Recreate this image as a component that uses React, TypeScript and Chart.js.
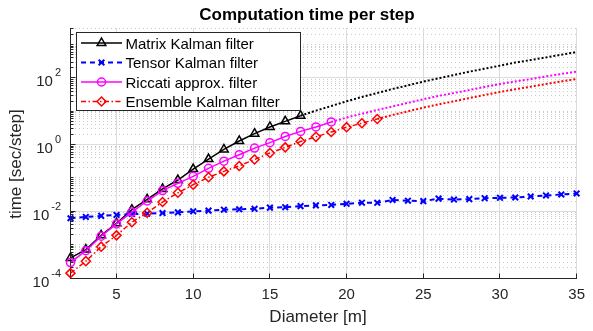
import React, { useEffect, useRef } from "react";
import { Chart, registerables } from "chart.js";

Chart.register(...registerables);

const FONT = '"Liberation Sans", Arial, Helvetica, sans-serif';
const AXIS_COLOR = "#262626";

// ---- data ----
const diameters = [2, 3, 4, 5, 6, 7, 8, 9, 10, 11, 12, 13, 14, 15, 16, 17, 18, 19, 20, 21, 22, 23, 24, 25, 26, 27, 28, 29, 30, 31, 32, 33, 34, 35];

// measured, D = 2..17
const matrixTime = [4.0e-4, 7.1e-4, 1.9e-3, 4.4e-3, 0.0112, 0.023, 0.047, 0.087, 0.186, 0.37, 0.72, 1.29, 2.14, 3.4, 5.0, 7.4];
// measured, D = 2..35
const tensorTime = [6.2e-3, 6.8e-3, 7.3e-3, 7.8e-3, 8.3e-3, 8.5e-3, 8.9e-3, 9.3e-3, 0.0100, 0.0105, 0.0112, 0.0115, 0.0119, 0.0129, 0.0133, 0.0143, 0.0151, 0.0155, 0.0168, 0.0182, 0.0180, 0.0219, 0.0209, 0.0202, 0.0240, 0.0226, 0.0232, 0.0248, 0.0254, 0.0260, 0.0279, 0.0299, 0.0320, 0.0343];
// measured, D = 2..19
const riccatiTime = [2.9e-4, 6.6e-4, 1.8e-3, 4.2e-3, 9.5e-3, 0.0204, 0.042, 0.069, 0.112, 0.195, 0.32, 0.5, 0.79, 1.15, 1.76, 2.5, 3.4, 4.8];
// measured, D = 2..22
const ensembleTime = [1.4e-4, 3.2e-4, 8.7e-4, 1.9e-3, 4.7e-3, 9.1e-3, 0.019, 0.036, 0.063, 0.105, 0.158, 0.23, 0.36, 0.56, 0.83, 1.24, 1.72, 2.4, 3.35, 4.4, 5.9];

// extrapolated (dotted) curves
const matrixExtrap = [7.4, 10.5, 14.5, 20, 27, 35.5, 47, 60, 78, 98, 123, 155, 190, 235, 290, 345, 415, 500, 600]; // D = 17..35
const riccatiExtrap = [4.8, 6.5, 8.5, 11, 14, 18, 23, 29, 35.5, 43.5, 54, 66, 79, 93, 112, 132, 155]; // D = 19..35
const ensembleExtrap = [5.9, 7.8, 10, 12.9, 16.2, 20, 25, 31, 38, 46, 55, 66, 79, 93]; // D = 22..35

const xTicks = [5, 10, 15, 20, 25, 30, 35];
const yLabelExponents = [-4, -2, 0, 2];
const yDecades = [-4, -3, -2, -1, 0, 1, 2, 3];
const yMinorMultipliers = [1, 2, 3, 4, 5, 6, 7, 8, 9];
const X_MIN = 2;
const X_MAX = 35;
const Y_MIN = 1e-4;
const Y_MAX = 3162;

const labels = {
  title: "Computation time per step",
  x: "Diameter [m]",
  y: "time [sec/step]",
};

const seriesNames = ["Matrix Kalman filter", "Tensor Kalman filter", "Riccati approx. filter", "Ensemble Kalman filter"];

// ---- helpers ----
const toPoints = (startD: number, values: number[]) => {
  const s = diameters.indexOf(startD);
  return values.map((v, i) => ({ x: diameters[s + i], y: v }));
};

const yTickValues: number[] = [];
for (const e of yDecades) {
  for (const m of yMinorMultipliers) {
    const v = m * Math.pow(10, e);
    if (v >= Y_MIN * 0.999 && v <= Y_MAX) yTickValues.push(v);
  }
}

const isMajorY = (v: number) => {
  const l = Math.log10(v);
  const r = Math.round(l);
  return Math.abs(l - r) < 1e-6 && yLabelExponents.includes(r);
};

function drawMarker(ctx: CanvasRenderingContext2D, shape: string, x: number, y: number, color: string) {
  ctx.save();
  ctx.setLineDash([]);
  ctx.strokeStyle = color;
  ctx.beginPath();
  if (shape === "triangle") {
    const r = 5;
    ctx.lineWidth = 1.5;
    ctx.moveTo(x, y - r);
    ctx.lineTo(x + r * 0.866, y + r * 0.5);
    ctx.lineTo(x - r * 0.866, y + r * 0.5);
    ctx.closePath();
  } else if (shape === "circle") {
    ctx.lineWidth = 1.5;
    ctx.arc(x, y, 4, 0, Math.PI * 2);
  } else if (shape === "rectRot") {
    const r = 4.5;
    ctx.lineWidth = 1.5;
    ctx.moveTo(x, y - r);
    ctx.lineTo(x + r, y);
    ctx.lineTo(x, y + r);
    ctx.lineTo(x - r, y);
    ctx.closePath();
  } else if (shape === "crossRot") {
    const r = 4 * Math.SQRT1_2;
    ctx.lineWidth = 2;
    ctx.moveTo(x - r, y - r);
    ctx.lineTo(x + r, y + r);
    ctx.moveTo(x + r, y - r);
    ctx.lineTo(x - r, y + r);
  }
  ctx.stroke();
  ctx.restore();
}

const legendStyles = [
  { color: "#000000", dash: [] as number[], width: 1.5, marker: "triangle" },
  { color: "#0000ff", dash: [5, 4], width: 2, marker: "crossRot" },
  { color: "#ff00ff", dash: [] as number[], width: 1.5, marker: "circle" },
  { color: "#ff0000", dash: [5, 2.5, 1.5, 2.5], width: 1.5, marker: "rectRot" },
];

const decorPlugin = {
  id: "decor",
  afterDraw(chart: any) {
    const { ctx, chartArea: ca, scales } = chart;
    const xs = scales.x;
    const ys = scales.y;
    ctx.save();
    ctx.setLineDash([]);
    ctx.strokeStyle = AXIS_COLOR;
    ctx.lineWidth = 1;
    const axX = Math.round(ca.left - 0.5) + 0.5;
    const axY = Math.round(ca.bottom - 0.5) + 0.5;
    // inward tick marks
    for (const t of yTickValues) {
      const py = Math.round(ys.getPixelForValue(t) - 0.5) + 0.5;
      const len = isMajorY(t) ? 5 : 3;
      ctx.beginPath();
      ctx.moveTo(axX, py);
      ctx.lineTo(axX + len, py);
      ctx.stroke();
    }
    for (const v of xTicks) {
      const px = Math.round(xs.getPixelForValue(v) - 0.5) + 0.5;
      ctx.beginPath();
      ctx.moveTo(px, axY);
      ctx.lineTo(px, axY - 5);
      ctx.stroke();
    }
    // y tick labels 10^e
    ctx.fillStyle = AXIS_COLOR;
    ctx.textAlign = "right";
    ctx.textBaseline = "alphabetic";
    for (const e of yLabelExponents) {
      const py = ys.getPixelForValue(Math.pow(10, e));
      const sup = e < 0 ? "-" + -e : String(e);
      ctx.font = `11px ${FONT}`;
      const supW = ctx.measureText(sup).width;
      ctx.fillText(sup, 61, py - 1.5);
      ctx.font = `15px ${FONT}`;
      ctx.fillText("10", 61 - supW - 2, py + 8.5);
    }
    // title
    ctx.textAlign = "center";
    ctx.fillStyle = "#000000";
    ctx.font = `bold 17px ${FONT}`;
    ctx.fillText(labels.title, 307, 20);
    // x label
    ctx.fillStyle = AXIS_COLOR;
    ctx.font = `17px ${FONT}`;
    ctx.fillText(labels.x, 318, 322);
    // y label
    ctx.save();
    ctx.translate(20.5, 164);
    ctx.rotate(-Math.PI / 2);
    ctx.fillText(labels.y, 0, 0);
    ctx.restore();

    // legend
    const bx = 76, by = 32, bw = 224, bh = 78;
    ctx.fillStyle = "#ffffff";
    ctx.fillRect(bx, by, bw, bh);
    ctx.strokeStyle = AXIS_COLOR;
    ctx.lineWidth = 1;
    ctx.strokeRect(bx + 0.5, by + 0.5, bw, bh);
    ctx.textAlign = "left";
    ctx.font = `15px ${FONT}`;
    seriesNames.forEach((name, i) => {
      const st = legendStyles[i];
      const ry = 43 + i * 19.5;
      ctx.save();
      ctx.strokeStyle = st.color;
      ctx.lineWidth = st.width;
      ctx.setLineDash(st.dash);
      ctx.beginPath();
      ctx.moveTo(81, ry);
      ctx.lineTo(122, ry);
      ctx.stroke();
      ctx.restore();
      drawMarker(ctx, st.marker, 101.5, ry, st.color);
      ctx.fillStyle = "#000000";
      ctx.fillText(name, 125.5, ry + 5.5);
    });
    ctx.restore();
  },
};

export default function App() {
  const canvasRef = useRef<HTMLCanvasElement | null>(null);

  useEffect(() => {
    const canvas = canvasRef.current;
    if (!canvas) return;
    const transparent = "rgba(0,0,0,0)";
    const chart = new Chart(canvas, {
      type: "line",
      data: {
        datasets: [
          {
            label: "Matrix extrapolation",
            data: toPoints(17, matrixExtrap),
            borderColor: "#000000",
            borderWidth: 2,
            borderDash: [2, 2],
            pointRadius: 0,
            order: 5,
            clip: false,
          },
          {
            label: "Riccati extrapolation",
            data: toPoints(19, riccatiExtrap),
            borderColor: "#ff00ff",
            borderWidth: 2,
            borderDash: [2, 2],
            pointRadius: 0,
            order: 5,
            clip: false,
          },
          {
            label: "Ensemble extrapolation",
            data: toPoints(22, ensembleExtrap),
            borderColor: "#ff0000",
            borderWidth: 2,
            borderDash: [2, 2],
            pointRadius: 0,
            order: 5,
            clip: false,
          },
          {
            label: seriesNames[0],
            data: toPoints(2, matrixTime),
            borderColor: "#000000",
            borderWidth: 1.5,
            pointStyle: "triangle",
            pointRadius: 5,
            pointBorderWidth: 1.5,
            pointBorderColor: "#000000",
            pointBackgroundColor: transparent,
            order: 4,
            clip: false,
          },
          {
            label: seriesNames[1],
            data: toPoints(2, tensorTime),
            borderColor: "#0000ff",
            borderWidth: 2,
            borderDash: [5, 4],
            pointStyle: "crossRot",
            pointRadius: 4,
            pointBorderWidth: 2,
            pointBorderColor: "#0000ff",
            pointBackgroundColor: transparent,
            order: 3,
            clip: false,
          },
          {
            label: seriesNames[2],
            data: toPoints(2, riccatiTime),
            borderColor: "#ff00ff",
            borderWidth: 1.5,
            pointStyle: "circle",
            pointRadius: 4,
            pointBorderWidth: 1.5,
            pointBorderColor: "#ff00ff",
            pointBackgroundColor: transparent,
            order: 2,
            clip: false,
          },
          {
            label: seriesNames[3],
            data: toPoints(2, ensembleTime),
            borderColor: "#ff0000",
            borderWidth: 1.5,
            borderDash: [5, 2.5, 1.5, 2.5],
            pointStyle: "rectRot",
            pointRadius: 4.5,
            pointBorderWidth: 1.5,
            pointBorderColor: "#ff0000",
            pointBackgroundColor: transparent,
            order: 1,
            clip: false,
          },
        ],
      },
      options: {
        responsive: false,
        animation: false,
        devicePixelRatio: 1,
        layout: { padding: { left: 0, right: 8, top: 28, bottom: 0 } },
        plugins: {
          legend: { display: false },
          title: { display: false },
          tooltip: { enabled: false },
        },
        elements: { line: { tension: 0 } },
        scales: {
          x: {
            type: "linear",
            min: X_MIN,
            max: X_MAX,
            afterBuildTicks: (s: any) => {
              s.ticks = xTicks.map((v) => ({ value: v }));
            },
            afterFit: (s: any) => {
              s.height = 53;
            },
            grid: { color: "#dcdcdc", lineWidth: 1, drawTicks: false },
            border: { display: true, color: AXIS_COLOR, width: 1 },
            ticks: {
              font: { family: FONT, size: 15 },
              color: AXIS_COLOR,
              padding: 8,
              maxRotation: 0,
              autoSkip: false,
            },
          },
          y: {
            type: "logarithmic",
            min: Y_MIN,
            max: Y_MAX,
            afterBuildTicks: (s: any) => {
              s.ticks = yTickValues.map((v) => ({ value: v }));
            },
            afterFit: (s: any) => {
              s.width = 70.5;
            },
            ticks: { display: false },
            grid: {
              drawTicks: false,
              lineWidth: 1,
              color: (c: any) => (c.tick && isMajorY(c.tick.value) ? "#dcdcdc" : "#cbcbcb"),
            },
            border: {
              display: true,
              color: AXIS_COLOR,
              width: 1,
              dash: (c: any) => (c.tick && !isMajorY(c.tick.value) ? [1, 3] : []),
            },
          },
        },
      },
      plugins: [decorPlugin],
    } as any);
    return () => chart.destroy();
  }, []);

  return (
    <div style={{ position: "absolute", left: 0, top: 0, width: 593, height: 331, background: "#ffffff" }}>
      <canvas ref={canvasRef} width={593} height={331} style={{ display: "block", width: 593, height: 331 }} />
    </div>
  );
}
